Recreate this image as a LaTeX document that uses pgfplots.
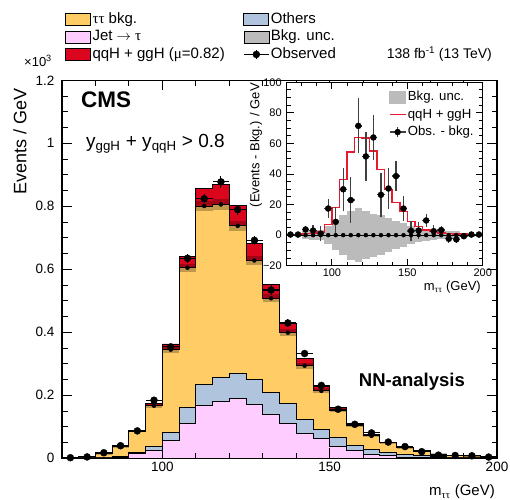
\documentclass[border=0pt]{standalone}
\usepackage{fontspec}
\setmainfont{Liberation Sans}
\newfontfamily\grk{Liberation Serif}
\usepackage{pgfplots}
\pgfplotsset{compat=1.18}
\usepackage{pgfplotstable}

\definecolor{ttcol}{RGB}{255,204,102}
\definecolor{fakecol}{RGB}{255,204,255}
\definecolor{othcol}{RGB}{176,196,222}
\definecolor{sigcol}{RGB}{220,5,30}
\definecolor{unccol}{RGB}{187,187,187}
\definecolor{linecol}{RGB}{230,25,45}

% bins of 5 GeV, left edges; last row repeats the last bin to close the steps
% P: jet->tau, B: jet->tau+others, O: all bkg (x10^3 / GeV)
% S: signal, diff: obs - bkg, err: data unc., band: bkg unc. (events / GeV)
\pgfplotstableread{
x    P      B      O      S     D       diff  err   band
70   0      0.0003 0.0015 0.5   0.0019  0.4   1     0.5
75   0.0005 0.001  0.004  0.5   0.0044  0.4   1.5   0.8
80   0.001  0.002  0.014  1     0.0177  3.7   2.5   2.5
85   0.003  0.007  0.037  1     0.040   3     3.5   3
90   0.014  0.020  0.086  2     0.087   1     5     3.5
95   0.024  0.037  0.167  7     0.1844  17.4  6.5   6
100  0.057  0.081  0.345  18    0.3537  8.7   9.8   10
105  0.110  0.160  0.605  36.5  0.635   30    14    13
110  0.169  0.233  0.801  54.5  0.8239  22.9  15    16
115  0.182  0.258  0.806  64    0.8775  71.5  18    17.5
120  0.189  0.270  0.738  63.5  0.7895  51.5  16    15.5
125  0.171  0.249  0.628  55    0.6919  63.9  14.7  14
130  0.139  0.210  0.508  43    0.5344  26.4  14.5  13
135  0.112  0.174  0.399  30    0.4295  30.5  13.6  11
140  0.080  0.123  0.294  21.5  0.3326  38.6  9.8   9
145  0.062  0.092  0.214  15.5  0.2314  17.4  8.2   8
150  0.039  0.066  0.153  9     0.1558  2.8   6.5   6
155  0.024  0.042  0.105  5.5   0.108   3     5.5   4.5
160  0.013  0.029  0.071  3.5   0.0806  9.6   4     3.8
165  0.008  0.018  0.049  2.3   0.0516  2.6   4     3.2
170  0.004  0.012  0.034  1.5   0.0373  3.3   3     2.8
175  0.003  0.008  0.0234 1     0.021   -2.4  2.5   2.5
180  0.002  0.005  0.0128 0.8   0.010   -2.8  2.5   2.8
185  0.001  0.003  0.0097 0.6   0.009   -0.7  2     1.5
190  0.001  0.002  0.0076 0.5   0.008   0.4   1.5   1
195  0.0005 0.001  0.0036 0.4   0.004   0.4   1.5   0.8
200  0.0005 0.001  0.0036 0.4   0.004   0.4   1.5   0.8
}\bins

\pgfplotsset{
  boxleg/.style={legend image code/.code={\draw[##1] (0pt,-6pt) rectangle (25pt,6pt);}},
  obsleg/.style={legend image code/.code={
    \draw[black, line width=1.1pt] (0pt,0pt) -- (25pt,0pt);
    \draw[black, line width=1.1pt] (12.5pt,-4.5pt) -- (12.5pt,4.5pt);
    \fill[black] (12.5pt,0pt) circle (3.5pt);}},
  sboxleg/.style={legend image code/.code={\fill[unccol] (0pt,-6pt) rectangle (16pt,6pt);}},
  slineleg/.style={legend image code/.code={\draw[linecol, line width=1.5pt] (0pt,0pt) -- (16pt,0pt);}},
  sobsleg/.style={legend image code/.code={
    \draw[black!75, line width=1.3pt] (0pt,0pt) -- (16pt,0pt);
    \draw[black!75, line width=1.3pt] (8pt,-5pt) -- (8pt,5pt);
    \fill[black] (8pt,0pt) circle (3pt);}},
}

\begin{document}
\begin{tikzpicture}
\path[use as bounding box] (0pt,0pt) rectangle (510pt,499pt);

\begin{axis}[
  at={(62pt,40.7pt)}, anchor=south west,
  scale only axis, width=435pt, height=378pt,
  xmin=70, xmax=200, ymin=0, ymax=1.2,
  axis on top,
  axis line style={line width=1.5pt},
  tick style={black, line width=1pt},
  major tick length=10pt, minor tick length=5.5pt,
  tick align=inside,
  xtick={100,150,200}, minor xtick={70,80,...,200},
  ytick={0,0.2,0.4,0.6,0.8,1,1.2}, minor y tick num=3,
  /pgf/number format/assume math mode=true,
  tick label style={font=\fontsize{13.5}{14}\selectfont},
  yticklabel style={xshift=-4pt},
  legend columns=2,
  legend cell align=left,
  legend style={at={(0.0,1.19)}, anchor=north west, draw=none, fill=none,
    font=\fontsize{15}{16}\selectfont,
    nodes={inner sep=1.5pt, text height=11pt, text depth=3.5pt},
    /tikz/every even column/.append style={column sep=17pt}},
]
% stacked histograms, largest first
\addplot[const plot, fill=sigcol, draw=black, line width=0.9pt, forget plot]
  table[x=x, y expr=\thisrow{O}+\thisrow{S}/1000]{\bins} \closedcycle;
\addplot[const plot, fill=ttcol, draw=black, line width=0.9pt, forget plot]
  table[x=x, y=O]{\bins} \closedcycle;
% background uncertainty, one bin-wide bar per bin
\addplot[only marks, mark=none, forget plot,
  error bars/.cd, y dir=both, y explicit,
  error bar style={line width=16.7pt, draw=black, draw opacity=0.25}, error mark=none]
  table[x expr=\thisrow{x}+2.5, y=O, y error expr=\thisrow{band}/1000,
        skip coords between index={26}{27}]{\bins};
\addplot[const plot, fill=othcol, draw=black, line width=0.9pt, forget plot]
  table[x=x, y=B]{\bins} \closedcycle;
\addplot[const plot, fill=fakecol, draw=black, line width=0.9pt, forget plot]
  table[x=x, y=P]{\bins} \closedcycle;
% observed
\addplot[only marks, mark=*, mark size=3.5pt, black, forget plot,
  error bars/.cd, x dir=both, x fixed=2.5, y dir=both, y explicit,
  error bar style={line width=1.1pt, black}, error mark=none]
  table[x expr=\thisrow{x}+2.5, y=D, y error expr=\thisrow{err}/1000,
        skip coords between index={26}{27}]{\bins};

\addlegendimage{boxleg, fill=ttcol, draw=black, line width=0.8pt}
\addlegendentry{{\grk ττ} bkg.}
\addlegendimage{boxleg, fill=othcol, draw=black, line width=0.8pt}
\addlegendentry{Others}
\addlegendimage{boxleg, fill=fakecol, draw=black, line width=0.8pt}
\addlegendentry{Jet $\rightarrow$ {\grk τ}}
\addlegendimage{boxleg, fill=unccol, draw=none}
\addlegendentry{Bkg. unc.}
\addlegendimage{boxleg, fill=sigcol, draw=black, line width=0.8pt}
\addlegendentry{qqH + ggH ({\grk μ}=0.82)}
\addlegendimage{obsleg}
\addlegendentry{Observed}
\end{axis}

% inset: observed minus background
\begin{axis}[
  at={(286.7pt,233.3pt)}, anchor=south west,
  scale only axis, width=196pt, height=183.4pt,
  xmin=70, xmax=200, ymin=-20, ymax=100,
  axis background/.style={fill=white},
  axis on top,
  axis line style={line width=1.2pt},
  tick style={black, line width=0.9pt},
  major tick length=7pt, minor tick length=4pt,
  tick align=inside,
  xtick={100,150,200}, minor xtick={70,80,...,200},
  ytick={-20,0,20,40,60,80,100}, minor y tick num=3,
  yticklabels={−20,0,20,40,60,80,100},
  /pgf/number format/assume math mode=true,
  tick label style={font=\fontsize{11}{12}\selectfont},
  yticklabel style={xshift=-1.5pt},
  legend cell align=left,
  legend style={at={(0.505,0.975)}, anchor=north west, draw=none, fill=none,
    font=\fontsize{13.2}{14}\selectfont,
    nodes={inner sep=1.5pt, text height=10pt, text depth=3pt},
    row sep=1.5pt},
]
\addplot[only marks, mark=none, forget plot,
  error bars/.cd, y dir=both, y explicit,
  error bar style={line width=7.55pt, draw=unccol}, error mark=none]
  table[x expr=\thisrow{x}+2.5, y expr=0, y error=band,
        skip coords between index={26}{27}]{\bins};
\addplot[const plot, linecol, line width=1.5pt, forget plot]
  table[x=x, y=S]{\bins};
\addplot[black, line width=1pt, forget plot] coordinates {(70,0) (200,0)};
\addplot[only marks, mark=*, mark size=3pt, black, forget plot,
  error bars/.cd, x dir=both, x fixed=2.5, y dir=both, y explicit,
  error bar style={line width=1.3pt, black!75}, error mark=none]
  table[x expr=\thisrow{x}+2.5, y=diff, y error=err,
        skip coords between index={26}{27}]{\bins};

\addlegendimage{sboxleg}
\addlegendentry{Bkg. unc.}
\addlegendimage{slineleg}
\addlegendentry{qqH + ggH}
\addlegendimage{sobsleg}
\addlegendentry{Obs. - bkg.}
\end{axis}

% labels and annotations
\node[rotate=90, anchor=east, inner sep=0pt, font=\fontsize{18}{18}\selectfont]
  at (20pt,411pt) {Events / GeV};
\node[anchor=east, inner sep=0pt, font=\fontsize{15}{15}\selectfont]
  at (495pt,7pt) {m\textsubscript{\grk ττ} (GeV)};
\node[inner sep=0pt, font=\fontsize{13}{13}\selectfont] at (38pt,438pt) {×10\textsuperscript{3}};
\node[anchor=east, inner sep=0pt, font=\fontsize{14}{14}\selectfont]
  at (492pt,445pt) {138 fb\textsuperscript{-1} (13 TeV)};
\node[anchor=west, inner sep=0pt, font=\fontsize{22.5}{23}\selectfont\bfseries]
  at (81pt,399pt) {CMS};
\node[anchor=base west, inner sep=0pt, font=\fontsize{19}{19}\selectfont]
  at (86pt,352pt) {y\textsubscript{ggH} + y\textsubscript{qqH} > 0.8};
\node[anchor=east, inner sep=0pt, font=\fontsize{18.5}{19}\selectfont\bfseries]
  at (465pt,117pt) {NN-analysis};
\node[rotate=90, anchor=east, inner sep=0pt, font=\fontsize{13}{13}\selectfont]
  at (256pt,416pt) {(Events - Bkg.) / GeV};
\node[anchor=east, inner sep=0pt, font=\fontsize{13}{13}\selectfont]
  at (481pt,212pt) {m\textsubscript{\grk ττ} (GeV)};
\end{tikzpicture}
\end{document}
